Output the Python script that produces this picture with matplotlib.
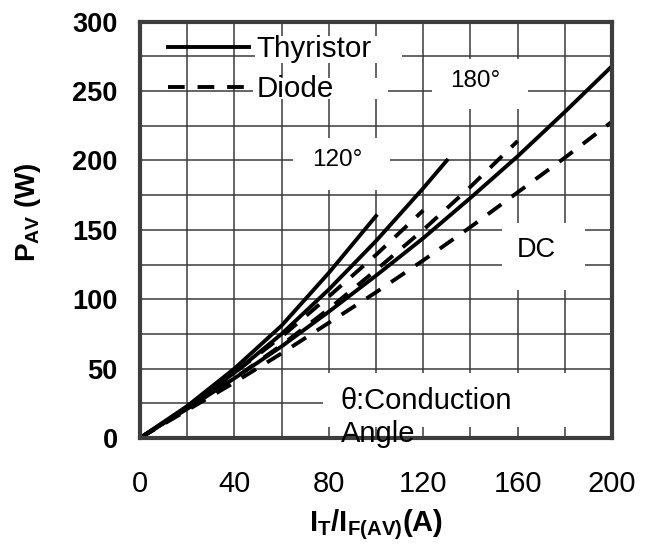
import matplotlib
matplotlib.use('Agg')
import matplotlib.pyplot as plt
import matplotlib.ticker as ticker
from matplotlib.patches import Rectangle

plt.rcParams['font.family'] = ['Liberation Sans', 'DejaVu Sans']
plt.rcParams['mathtext.fontset'] = 'custom'
plt.rcParams['mathtext.rm'] = 'Liberation Sans'
plt.rcParams['mathtext.bf'] = 'Liberation Sans:bold'
plt.rcParams['mathtext.it'] = 'Liberation Sans:italic'

# (A -> W)
thy_120_i = [0, 20, 40, 60, 80, 100]
thy_120_p = [0, 23, 50, 81, 119, 160]
thy_180_i = [0, 20, 40, 60, 80, 100, 120, 130]
thy_180_p = [0, 22, 47, 75, 107, 142, 180, 200]
thy_dc_i = [0, 20, 40, 60, 80, 100, 120, 140, 160, 180, 200]
thy_dc_p = [0, 21, 43, 66, 91, 117, 144, 173, 203, 235, 268]

dio_120_i = [0, 20, 40, 60, 80, 100, 120]
dio_120_p = [0, 22, 47, 73, 102, 132, 164]
dio_180_i = [0, 20, 40, 60, 80, 100, 120, 140, 160]
dio_180_p = [0, 21, 43, 67, 93, 121, 150, 181, 214]
dio_dc_i = [0, 20, 40, 60, 80, 100, 120, 140, 160, 180, 200]
dio_dc_p = [0, 20, 40, 61, 83, 105, 128, 152, 177, 202, 228]

x_ticks = [0, 40, 80, 120, 160, 200]
y_ticks = [0, 50, 100, 150, 200, 250, 300]

fig = plt.figure(figsize=(6.5, 5.44), dpi=100)
ax = fig.add_axes([0.2154, 0.1949, 0.7262, 0.7652])

lw = 2.8
dash = (0, (4.3, 3.3))
ax.plot(thy_120_i, thy_120_p, color='black', lw=lw, label='Thyristor', zorder=2)
ax.plot(thy_180_i, thy_180_p, color='black', lw=lw, zorder=2)
ax.plot(thy_dc_i, thy_dc_p, color='black', lw=lw, zorder=2)
ax.plot(dio_120_i, dio_120_p, color='black', lw=lw, ls=dash, label='Diode', zorder=2)
ax.plot(dio_180_i, dio_180_p, color='black', lw=lw, ls=dash, zorder=2)
ax.plot(dio_dc_i, dio_dc_p, color='black', lw=lw, ls=dash, zorder=2)

ax.set_xlim(0, 200)
ax.set_ylim(0, 300)
ax.xaxis.set_major_locator(ticker.FixedLocator(x_ticks))
ax.yaxis.set_major_locator(ticker.FixedLocator(y_ticks))
ax.xaxis.set_minor_locator(ticker.MultipleLocator(20))
ax.yaxis.set_minor_locator(ticker.MultipleLocator(25))
ax.set_axisbelow(True)
ax.grid(True, which='both', color='#3a3a3a', lw=1.1)
ax.tick_params(which='both', length=0)
ax.tick_params(axis='x', labelsize=21, pad=23)
ax.tick_params(axis='y', labelsize=19.5, pad=16)
plt.setp(ax.get_yticklabels(), fontweight='bold')

for s in ax.spines.values():
    s.set_linewidth(3)
    s.set_color('#3d3d3d')

# white patches behind the annotations
boxes = [(48.7, 270.5, 62.2, 19.4), (47.9, 244.6, 57.2, 15.1),
         (64.8, 178.4, 41.1, 38.1), (123.6, 237.4, 40.9, 36.0),
         (153.2, 106.5, 35.4, 48.2), (77.7, 7.9, 122.3, 38.9)]
for bx, by, bw, bh in boxes:
    ax.add_patch(Rectangle((bx, by), bw, bh, facecolor='white', edgecolor='none', zorder=1))

ax.text(83.4, 200, '120°', fontsize=17.5, ha='center', va='center', zorder=4)
ax.text(142, 257.5, '180°', fontsize=17.5, ha='center', va='center', zorder=4)
ax.text(168, 135.3, 'DC', fontsize=19.5, ha='center', va='center', zorder=4)
ax.text(85, 14.8, 'θ:Conduction\nAngle', fontsize=21, ha='left', va='center',
        linespacing=1.2, zorder=4, clip_on=False)

ax.legend(loc='upper left', bbox_to_anchor=(0.059, 0.968), frameon=False,
          borderaxespad=0, borderpad=0, handlelength=2.75, handletextpad=0.25,
          labelspacing=0.4, fontsize=21.3)

ax.set_xlabel(r'$\mathbf{I_T/I_{F(AV)}(A)}$', fontsize=21)
ax.set_ylabel(r'$\mathbf{P_{AV}}$ (W)', fontsize=20, fontweight='bold')
ax.xaxis.set_label_coords(0.5, -0.166)
ax.yaxis.set_label_coords(-0.205, 0.543)

fig.savefig('out.png', dpi=100)
